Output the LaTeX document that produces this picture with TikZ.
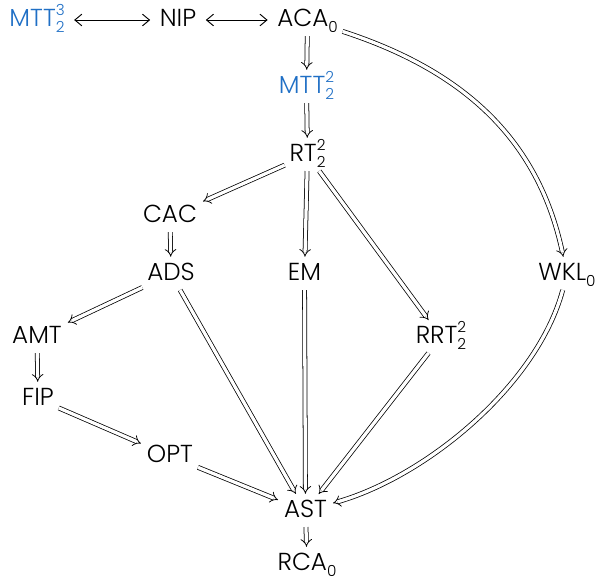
\documentclass[tikz,border=0pt]{standalone}
\usepackage{fontspec}
\setmainfont{Poppins}[UprightFont=* Light]
\usetikzlibrary{arrows.meta}
\definecolor{mttblue}{HTML}{1F6FC5}
% stacked super/subscript and plain subscript in text
\newcommand\supsub[2]{\makebox[0pt][l]{\raisebox{0.85ex}{\fontsize{13}{13}\selectfont #1}}\raisebox{-0.45ex}{\fontsize{13}{13}\selectfont #2}}
\newcommand\lowsub[1]{\raisebox{-0.45ex}{\fontsize{13}{13}\selectfont #1}}
\begin{document}
\begin{tikzpicture}[x=0.03cm,y=0.03cm,
  every node/.style={font=\fontsize{21}{24}\selectfont, inner sep=4pt,
    text height=15pt, text depth=4pt},
  principle/.style={text=black},
  blueprinciple/.style={text=mttblue},
  impl/.style={double, double distance=2.8pt, line width=0.65pt,
    -{Implies[scale=1.6]}, shorten >=1pt},
  equiv/.style={line width=0.8pt, shorten <=4pt, shorten >=4pt,
    {Straight Barb[length=6pt,width=10pt]}-{Straight Barb[length=6pt,width=10pt]}}]
\useasboundingbox (0,0) rectangle (607,-581);
\node[blueprinciple] (mtt3) at (37,-20) {MTT\supsub{3}{2}};
\node[principle] (nip) at (178,-20) {NIP};
\node[principle] (aca) at (307.5,-20) {ACA\lowsub{0}};
\node[blueprinciple] (mtt2) at (306.5,-87) {MTT\supsub{2}{2}};
\node[principle] (rt) at (307.5,-155) {RT\supsub{2}{2}};
\node[principle] (cac) at (170,-216) {CAC};
\node[principle] (ads) at (171,-274) {ADS};
\node[principle] (em) at (304.5,-274) {EM};
\node[principle] (wkl) at (567,-274) {WKL\lowsub{0}};
\node[principle] (amt) at (37,-337) {AMT};
\node[principle] (rrt) at (441,-337) {RRT\supsub{2}{2}};
\node[principle] (fip) at (38,-399) {FIP};
\node[principle] (opt) at (170,-456) {OPT};
\node[principle] (ast) at (305.5,-511) {AST};
\node[principle] (rca) at (307,-564) {RCA\lowsub{0}};

\draw[equiv] (mtt3) -- (nip);
\draw[equiv] (nip) -- (aca);
\draw[impl] (aca) -- (mtt2);
\draw[impl] (mtt2) -- (rt);
\draw[impl] (rt) -- (cac);
\draw[impl] (rt) -- (em);
\draw[impl] (rt) -- (rrt);
\draw[impl] (cac) -- (ads);
\draw[impl] (ads) -- (amt);
\draw[impl] (ads) -- (ast);
\draw[impl] (em) -- (ast);
\draw[impl] (rrt) -- (ast);
\draw[impl] (amt) -- (fip);
\draw[impl] (fip) -- (opt);
\draw[impl] (opt) -- (ast);
\draw[impl] (ast) -- (rca);
\draw[impl] (aca) to[out=-18, in=102] (wkl);
\draw[impl] (wkl) to[out=-105, in=16, looseness=0.8] (ast);
\end{tikzpicture}
\end{document}
